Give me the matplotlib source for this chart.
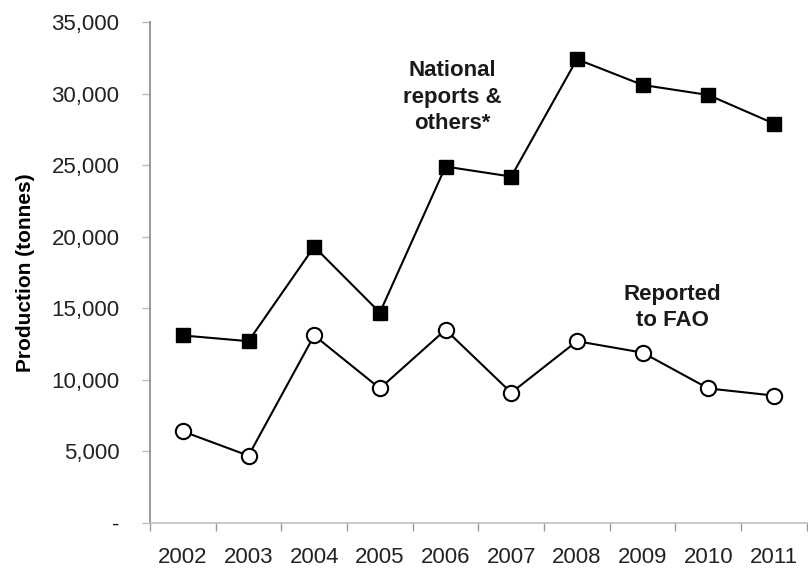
import matplotlib
matplotlib.use('Agg')
import matplotlib.pyplot as plt
from matplotlib.ticker import FuncFormatter, FixedLocator

# 数据
years = ['2002', '2003', '2004', '2005', '2006', '2007', '2008', '2009', '2010', '2011']
national_reports = [13100, 12700, 19300, 14700, 24900, 24200, 32400, 30600, 29900, 27900]
reported_fao = [6400, 4700, 13100, 9400, 13500, 9100, 12700, 11900, 9400, 8900]
y_ticks = [0, 5000, 10000, 15000, 20000, 25000, 30000, 35000]


def fmt_thousands(v, pos):
    """Excel 风格：0 显示为 -"""
    if v == 0:
        return '-'
    return f'{v:,.0f}'


def plot_production():
    plt.rcParams['font.family'] = ['Liberation Sans', 'DejaVu Sans']

    fig = plt.figure(figsize=(8.08, 5.71), dpi=100)
    ax = fig.add_axes([0.1856, 0.0841, 0.813, 0.8774])

    x = list(range(len(years)))
    ax.plot(x, national_reports, color='black', linewidth=1.5,
            marker='s', markersize=10, markerfacecolor='black', markeredgecolor='black')
    ax.plot(x, reported_fao, color='black', linewidth=1.5,
            marker='o', markersize=11, markerfacecolor='white', markeredgecolor='black',
            markeredgewidth=1.5)

    ax.set_xlim(-0.5, len(years) - 0.5)
    ax.set_ylim(0, 35000)

    # y 轴
    ax.set_yticks(y_ticks)
    ax.yaxis.set_major_formatter(FuncFormatter(fmt_thousands))
    ax.tick_params(axis='y', direction='out', length=6, width=1, color='#bbbbbb',
                   pad=16, labelsize=16, labelcolor='#222222')
    ax.set_ylabel('Production (tonnes)', fontsize=15, fontweight='bold', labelpad=12)

    # x 轴：刻度线在类别之间，标签在类别中间
    ax.xaxis.set_major_locator(FixedLocator([i - 0.5 for i in range(len(years) + 1)]))
    ax.xaxis.set_minor_locator(FixedLocator(x))
    ax.set_xticklabels([], minor=False)
    ax.set_xticklabels(years, minor=True)
    ax.tick_params(axis='x', which='major', direction='out', length=6, width=1, color='#999999')
    ax.tick_params(axis='x', which='minor', length=0, pad=17, labelsize=16, labelcolor='#222222')

    for side in ['top', 'right']:
        ax.spines[side].set_visible(False)
    ax.spines['left'].set_color('#888888')
    ax.spines['left'].set_linewidth(1.2)
    ax.spines['bottom'].set_color('#c0c0c0')
    ax.spines['bottom'].set_linewidth(1.2)

    ax.text(4.11, 29750, 'National\nreports &\nothers*', ha='center', va='center',
            fontsize=16, fontweight='bold', linespacing=1.35, color='#1a1a1a')
    ax.text(7.45, 15050, 'Reported\nto FAO', ha='center', va='center',
            fontsize=16, fontweight='bold', linespacing=1.35, color='#1a1a1a')

    fig.savefig('out.png', dpi=100)


def main():
    plot_production()


if __name__ == "__main__":
    main()
